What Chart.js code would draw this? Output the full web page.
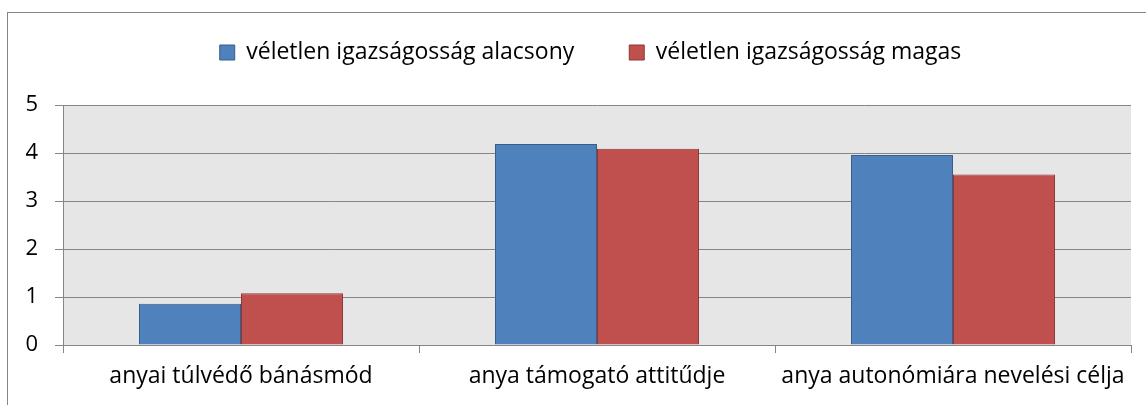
<!DOCTYPE html>
<html>
<head>
<meta charset="utf-8">
<script src="https://cdn.jsdelivr.net/npm/chart.js@4.4.1/dist/chart.umd.min.js"></script>
<style>
  html, body { margin: 0; padding: 0; background: #fff; overflow: hidden; }
  #wrap { position: relative; width: 1146px; height: 405px; }
  #frame { position: absolute; left: 7px; top: 12px; width: 1200px; height: 500px; border: 1.5px solid #868686; box-sizing: border-box; pointer-events: none; }
  canvas { position: absolute; left: 0; top: 0; }
</style>
</head>
<body>
<div id="wrap">
  <canvas id="c" width="1146" height="405"></canvas>
  <div id="frame"></div>
</div>
<script>
const categories = ["anyai túlvédő bánásmód", "anya támogató attitűdje", "anya autonómiára nevelési célja"];
const seriesNames = ["véletlen igazságosság alacsony", "véletlen igazságosság magas"];
const lowValues = [0.86, 4.19, 3.96];
const highValues = [1.08, 4.09, 3.55];
const yTicks = [0, 1, 2, 3, 4, 5];

const FONT = "'Open Sans', 'Noto Sans', sans-serif";

const plotBg = {
  id: 'plotBg',
  beforeDraw(chart) {
    const { ctx, chartArea: a } = chart;
    ctx.save();
    ctx.fillStyle = '#e6e6e6';
    ctx.fillRect(a.left, a.top, a.right - a.left, a.bottom - a.top);
    ctx.restore();
  }
};

const legendPlace = {
  id: 'legendPlace',
  beforeLayout(chart) {
    const lg = chart.legend;
    if (lg && !lg._patched) {
      const orig = lg.fit.bind(lg);
      lg.fit = function () { orig(); this.height = 105; };
      lg._patched = true;
    }
  },
  afterLayout(chart) {
    const lg = chart.legend;
    if (!lg) return;
    lg.top -= 14;
    lg.bottom -= 14;
    lg.left += 25;
    lg.right += 25;
  }
};

new Chart(document.getElementById('c'), {
  type: 'bar',
  data: {
    labels: categories,
    datasets: [
      { label: seriesNames[0], data: lowValues, backgroundColor: '#4f81bd', borderColor: '#385d8a', borderWidth: 1 },
      { label: seriesNames[1], data: highValues, backgroundColor: '#c0504d', borderColor: '#8c3836', borderWidth: 1 }
    ]
  },
  options: {
    responsive: false,
    animation: false,
    devicePixelRatio: 1,
    layout: { padding: { left: 0, right: 15, top: 0, bottom: 0 } },
    datasets: { bar: { categoryPercentage: 0.573, barPercentage: 1 } },
    plugins: {
      tooltip: { enabled: false },
      legend: {
        display: true,
        position: 'top',
        labels: {
          color: '#000',
          font: { family: FONT, size: 23 },
          boxWidth: 15,
          boxHeight: 15,
          padding: 55,
          generateLabels(chart) {
            return chart.data.datasets.map((ds, i) => ({
              text: ds.label,
              fillStyle: ds.backgroundColor,
              strokeStyle: ds.borderColor,
              lineWidth: 1,
              datasetIndex: i,
              fontColor: '#000'
            }));
          }
        }
      }
    },
    scales: {
      x: {
        offset: true,
        grid: { display: true, drawOnChartArea: false, drawTicks: true, tickLength: 8, color: '#868686', offset: true },
        border: { display: true, color: '#868686', width: 1 },
        ticks: { color: '#000', font: { family: FONT, size: 23 }, padding: 10, maxRotation: 0, autoSkip: false },
        afterFit(scale) { scale.height = 60; }
      },
      y: {
        min: 0,
        max: 5,
        afterBuildTicks(scale) { scale.ticks = yTicks.map(v => ({ value: v })); },
        grid: { color: '#868686', tickLength: 8, drawTicks: true },
        border: { display: true, color: '#868686', width: 1 },
        ticks: { color: '#000', font: { family: FONT, size: 22 }, padding: 17 },
        afterFit(scale) { scale.width = 63; }
      }
    }
  },
  plugins: [plotBg, legendPlace]
});
</script>
</body>
</html>
